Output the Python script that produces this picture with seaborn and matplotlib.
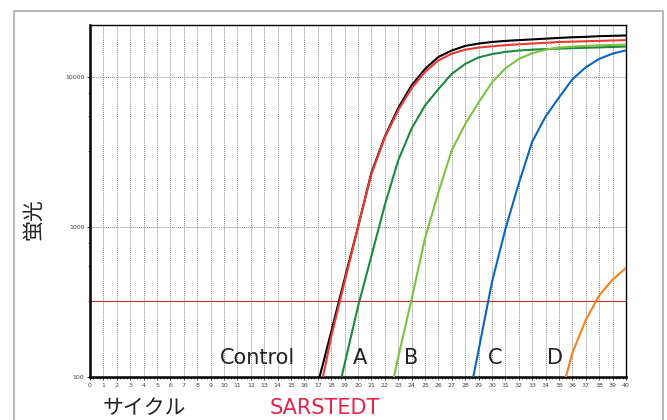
import pandas as pd
import matplotlib.pyplot as plt
import seaborn as sns
from matplotlib.patches import Rectangle
from matplotlib.ticker import FixedLocator, MultipleLocator, NullFormatter

# values (fluorescence per cycle)
control_cycles = list(range(17, 41))
control_vals = [90, 200, 450, 1000, 2300, 4000, 6200, 8800, 11300, 13600, 15000, 16100,
                16700, 17100, 17400, 17600, 17800, 18000, 18200, 18400, 18500, 18700, 18800, 18900]

sarstedt_cycles = list(range(17, 41))
sarstedt_vals = [68, 185, 430, 1000, 2250, 3950, 6000, 8400, 10800, 12900, 14300, 15200,
                 15700, 16000, 16300, 16500, 16700, 16900, 17100, 17200, 17300, 17400, 17500, 17600]

a_cycles = list(range(18, 41))
a_vals = [50, 122, 295, 640, 1400, 2780, 4530, 6450, 8300, 10500, 12200, 13500,
          14200, 14700, 15000, 15200, 15350, 15450, 15550, 15650, 15750, 15850, 15950]

b_cycles = list(range(22, 41))
b_vals = [53, 135, 330, 840, 1700, 3250, 4850, 6760, 9200, 11400, 13200, 14400,
          15200, 15700, 15950, 16100, 16250, 16350, 16450]

c_cycles = list(range(28, 41))
c_vals = [54, 151, 430, 970, 1950, 3700, 5450, 7300, 9650, 11600, 13200, 14300, 15050]

d_cycles = list(range(35, 41))
d_vals = [68, 145, 240, 350, 446, 533]

threshold = 321

series_names = ["Control", "SARSTEDT", "A", "B", "C", "D"]
series_colors = ["#000000", "#ee3a32", "#1d8a3e", "#7cc243", "#0b66b8", "#f5821f"]

label_texts = ["Control", "A", "B", "C", "D"]
label_x = [12.5, 20.15, 23.95, 30.2, 34.7]

tick_cycles = list(range(0, 41))
y_major = [100, 1000, 10000]
y_minor = [320, 550, 780, 3200, 5500, 7800]

frames = []
for name, cyc, vals in [("Control", control_cycles, control_vals),
                        ("SARSTEDT", sarstedt_cycles, sarstedt_vals),
                        ("A", a_cycles, a_vals),
                        ("B", b_cycles, b_vals),
                        ("C", c_cycles, c_vals),
                        ("D", d_cycles, d_vals)]:
    frames.append(pd.DataFrame({"cycle": cyc, "fluor": vals, "series": name}))
df = pd.concat(frames, ignore_index=True)

sns.set_theme(style="white")
plt.rcParams['font.family'] = ['DejaVu Sans', 'Noto Sans CJK JP']

fig = plt.figure(figsize=(6.67, 4.2), dpi=100)
ax = fig.add_axes([90 / 667, 1 - 377 / 420, (626 - 90) / 667, (377 - 25) / 420])

# grid
for c in tick_cycles[1:-1]:
    ax.axvline(c, color="#8a8a8a", lw=0.7, ls=(0, (1, 1)), zorder=0)
for v in y_major[1:]:
    ax.axhline(v, color="#8a8a8a", lw=0.7, ls=(0, (1, 1)), zorder=0)
ax.axhline(threshold, color="#c9302c", lw=0.8, zorder=1)

sns.lineplot(data=df, x="cycle", y="fluor", hue="series", hue_order=series_names,
             palette=dict(zip(series_names, series_colors)), lw=1.5,
             errorbar=None, legend=False, sort=True, ax=ax, zorder=3)

ax.set_yscale("log")
ax.set_xlim(0, 40)
ax.set_ylim(100, 22200)

ax.xaxis.set_major_locator(FixedLocator(tick_cycles))
ax.xaxis.set_minor_locator(MultipleLocator(0.25))
ax.yaxis.set_major_locator(FixedLocator(y_major))
ax.yaxis.set_minor_locator(FixedLocator(y_minor))
ax.yaxis.set_minor_formatter(NullFormatter())
ax.set_yticklabels([str(v) for v in y_major])
ax.tick_params(axis="both", which="major", direction="out", length=2.5, width=0.7,
               labelsize=4.5, labelcolor="#444444", color="#333333", pad=1.5,
               bottom=True, left=True)
ax.tick_params(axis="both", which="minor", direction="out", length=1.5, width=0.6,
               color="#555555", bottom=True, left=True)

for side in ["left", "bottom"]:
    ax.spines[side].set_linewidth(1.8)
    ax.spines[side].set_color("black")
for side in ["top", "right"]:
    ax.spines[side].set_linewidth(1.0)
    ax.spines[side].set_color("black")

ax.set_xlabel("")
ax.set_ylabel("")

for t, x in zip(label_texts, label_x):
    ax.text(x, 133, t, fontsize=15, color="#222222", ha="center", va="center", zorder=4)

fig.text(33 / 667, 1 - 219 / 420, "蛍光", rotation=90, fontsize=15, color="#222222",
         ha="center", va="center", family=["Noto Sans CJK JP", "DejaVu Sans"])
fig.text(144 / 667, 1 - 408 / 420, "サイクル", fontsize=15, color="#222222",
         ha="center", va="center", family=["Noto Sans CJK JP", "DejaVu Sans"])
fig.text(325 / 667, 1 - 408 / 420, "SARSTEDT", fontsize=15, color="#e0294a",
         ha="center", va="center")

fig.patches.append(Rectangle((14 / 667, -0.1), (663 - 14) / 667, 1 - 11 / 420 + 0.1,
                             transform=fig.transFigure, fill=False,
                             edgecolor="#aaaaaa", lw=1.2))

fig.savefig("out.png", dpi=100)
plt.close(fig)
